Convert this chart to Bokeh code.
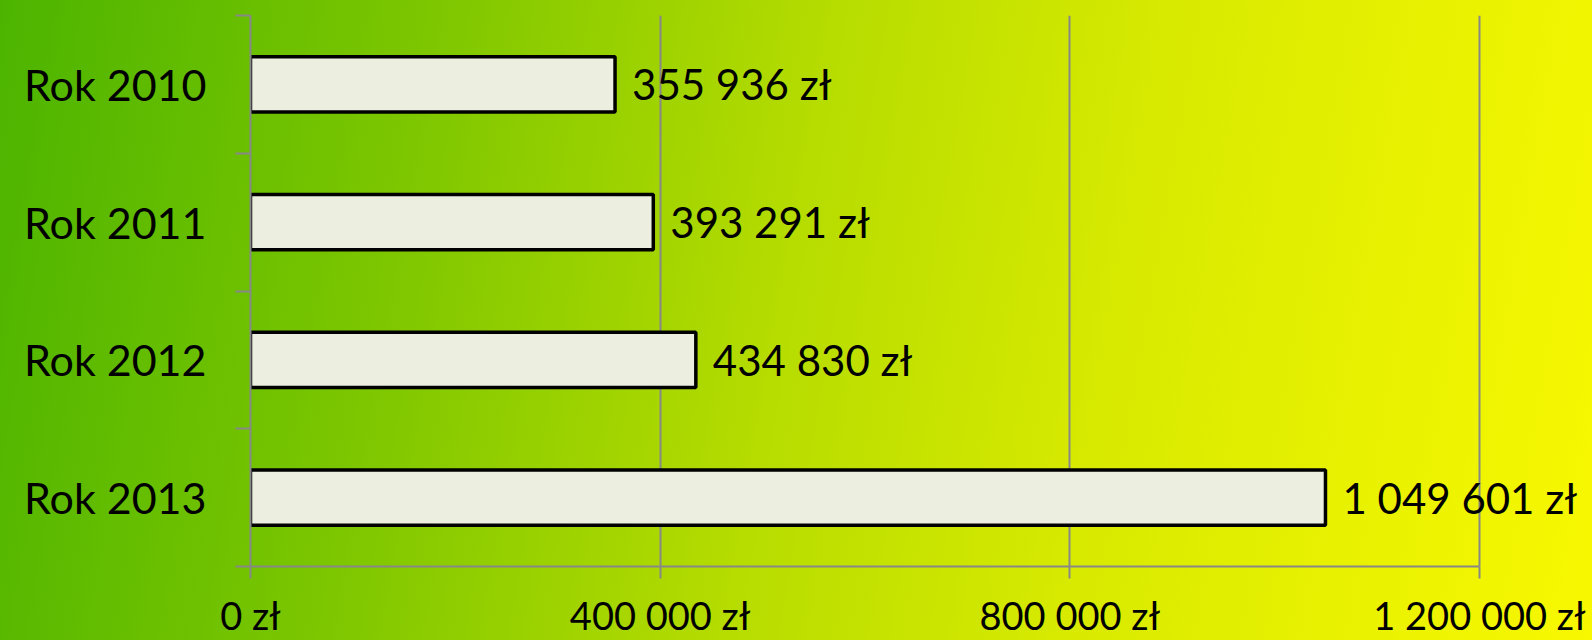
from bokeh.plotting import figure
from bokeh.models import Range1d, FixedTicker, ColumnDataSource, LabelSet
from bokeh.core.properties import value
from bokeh.embed import file_html
from bokeh.resources import INLINE

# ---- data ----
years = ["Rok 2010", "Rok 2011", "Rok 2012", "Rok 2013"]
amounts = [355936, 393291, 434830, 1049601]
x_ticks = [0, 400000, 800000, 1200000]


def fmt(v):
    return f"{v:,}".replace(",", " ") + " zł"


FONT = "Lato"
GRAY = "#888888"
W, H = 1592, 640
LEFT = 250          # frame left edge (px)
AXIS_END = 1479     # pixel where the last tick sits
x_end = x_ticks[-1] * (W - LEFT) / (AXIS_END - LEFT)   # frame runs to the right edge

ypos = [i + 0.5 for i in range(len(years))]
src = ColumnDataSource(dict(y=ypos, v=amounts, label=[fmt(a) for a in amounts]))

p = figure(
    width=W, height=H,
    x_range=Range1d(0, x_end), y_range=Range1d(len(years), 0),
    output_backend="svg", toolbar_location=None,
    min_border_left=LEFT, min_border_top=15, min_border_right=0, min_border_bottom=0,
)
p.background_fill_alpha = 0
p.border_fill_alpha = 0
p.outline_line_color = None

p.hbar(y="y", right="v", left=0, height=0.4, source=src,
       fill_color="#ecefe0", line_color="black", line_width=3.5)
p.add_layout(LabelSet(x="v", y="y", text="label", source=src, x_offset=17,
                      text_baseline="middle", text_align="left",
                      text_font=value(FONT), text_font_size="42px", text_color="black"))

# x axis
xa = p.xaxis[0]
xa.ticker = FixedTicker(ticks=x_ticks)
xa.bounds = (x_ticks[0], x_ticks[-1])
xa.major_label_overrides = {t: fmt(t) for t in x_ticks}
xa.axis_line_color = GRAY
xa.axis_line_width = 2
xa.major_tick_line_color = GRAY
xa.major_tick_line_width = 2
xa.major_tick_out = 12
xa.major_tick_in = 0
xa.minor_tick_line_color = None
xa.major_label_text_font = FONT
xa.major_label_text_font_size = "38px"
xa.major_label_text_color = "black"
xa.major_label_standoff = 13

# y axis
ya = p.yaxis[0]
ya.ticker = FixedTicker(ticks=ypos, minor_ticks=list(range(len(years) + 1)))
ya.major_label_overrides = {y: n for y, n in zip(ypos, years)}
ya.axis_line_color = GRAY
ya.axis_line_width = 2
ya.major_tick_line_color = None
ya.major_tick_out = 0
ya.major_tick_in = 0
ya.minor_tick_line_color = GRAY
ya.minor_tick_line_width = 2
ya.minor_tick_out = 15
ya.minor_tick_in = 0
ya.major_label_text_font = FONT
ya.major_label_text_font_size = "43px"
ya.major_label_text_color = "black"
ya.major_label_standoff = 29

p.xgrid.ticker = FixedTicker(ticks=x_ticks)
p.xgrid.grid_line_color = GRAY
p.xgrid.grid_line_width = 2
p.ygrid.grid_line_color = None

html = file_html(p, INLINE)
css = ("<style>html{min-height:100%;background:linear-gradient(100deg,"
       "#4cb400 0%,#7cc600 25%,#b6dc00 49%,#d8ea00 69%,#f8f800 100%);}"
       "body{background:transparent;}</style>")
html = html.replace("</head>", css + "</head>", 1)
open("out.html", "w").write(html)
